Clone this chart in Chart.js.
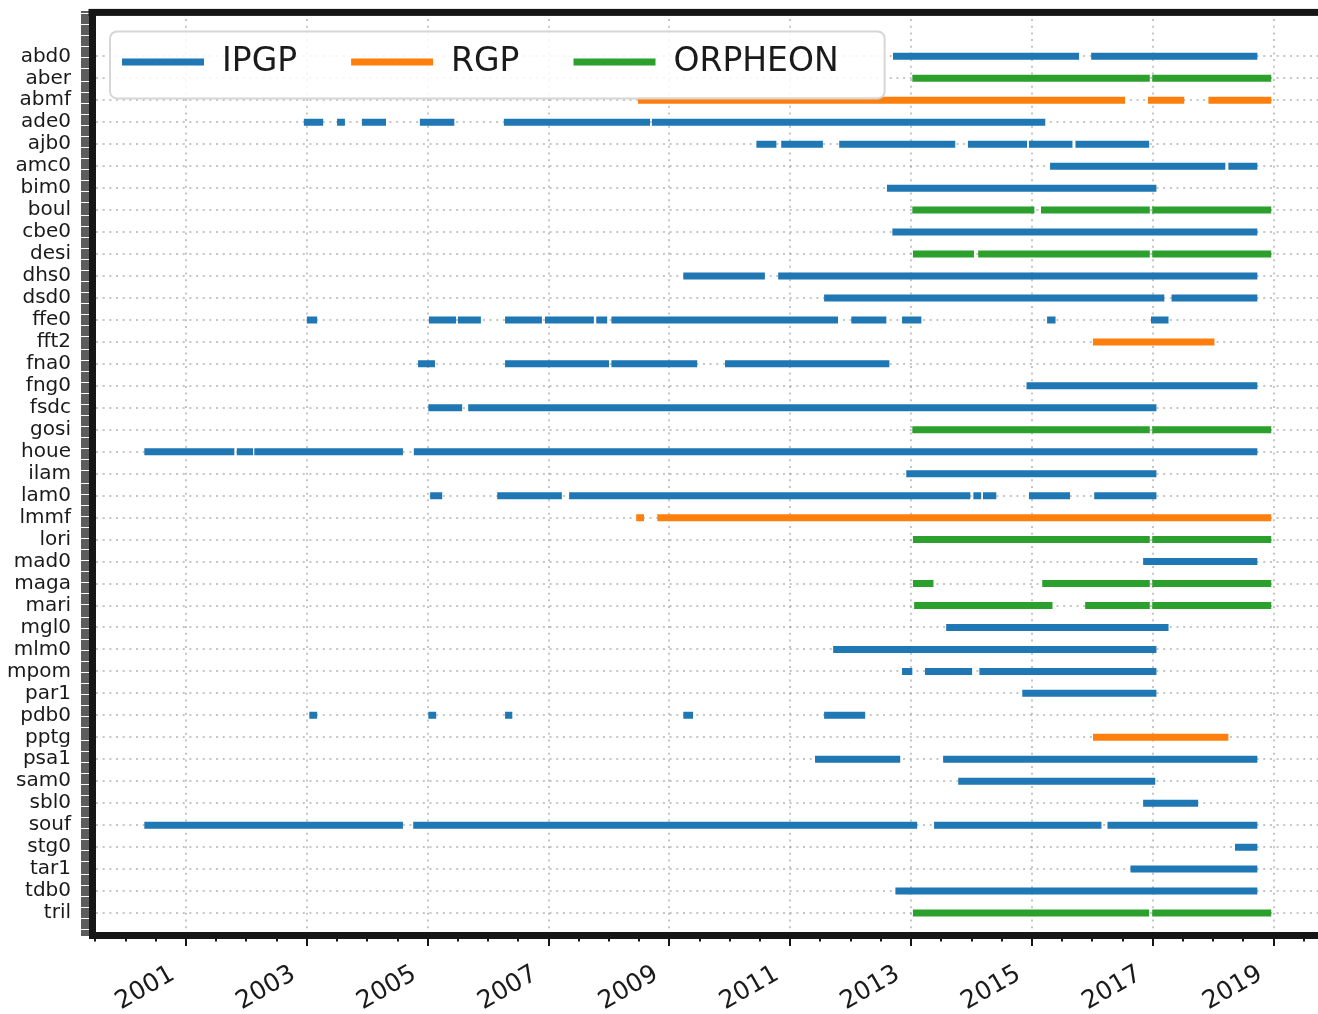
<!DOCTYPE html>
<html>
<head>
<meta charset="utf-8">
<script src="https://cdn.jsdelivr.net/npm/chart.js@4.4.1/dist/chart.umd.min.js"></script>
<style>
  html, body { margin: 0; padding: 0; background: #fff; overflow: hidden; }
  canvas { display: block; }
</style>
</head>
<body>
<canvas id="chart" width="1330" height="1014"></canvas>
<script>
// --- Data: stations (top to bottom), network of each station, observation periods (decimal years) ---
const stations = ['abd0', 'aber', 'abmf', 'ade0', 'ajb0', 'amc0', 'bim0', 'boul', 'cbe0', 'desi',
    'dhs0', 'dsd0', 'ffe0', 'fft2', 'fna0', 'fng0', 'fsdc', 'gosi', 'houe', 'ilam',
    'lam0', 'lmmf', 'lori', 'mad0', 'maga', 'mari', 'mgl0', 'mlm0', 'mpom', 'par1',
    'pdb0', 'pptg', 'psa1', 'sam0', 'sbl0', 'souf', 'stg0', 'tar1', 'tdb0', 'tril'];

const stationNetwork = ['IPGP', 'ORPHEON', 'RGP', 'IPGP', 'IPGP', 'IPGP', 'IPGP', 'ORPHEON', 'IPGP', 'ORPHEON',
    'IPGP', 'IPGP', 'IPGP', 'RGP', 'IPGP', 'IPGP', 'IPGP', 'ORPHEON', 'IPGP', 'IPGP',
    'IPGP', 'RGP', 'ORPHEON', 'IPGP', 'ORPHEON', 'ORPHEON', 'IPGP', 'IPGP', 'IPGP', 'IPGP',
    'IPGP', 'RGP', 'IPGP', 'IPGP', 'IPGP', 'IPGP', 'IPGP', 'IPGP', 'IPGP', 'ORPHEON'];

const periods = [
    [[2012.70, 2015.78], [2015.98, 2018.73]],                                   // abd0
    [[2013.02, 2016.95], [2016.99, 2018.96]],                                   // aber
    [[2008.48, 2016.54], [2016.92, 2017.52], [2017.92, 2018.96]],               // abmf
    [[2002.95, 2003.27], [2003.50, 2003.63], [2003.91, 2004.31], [2004.87, 2005.44],
     [2006.26, 2008.68], [2008.71, 2015.22]],                                   // ade0
    [[2010.44, 2010.77], [2010.85, 2011.54], [2011.81, 2013.73], [2013.94, 2014.92],
     [2014.95, 2015.67], [2015.72, 2016.94]],                                   // ajb0
    [[2015.30, 2018.20], [2018.25, 2018.73]],                                   // amc0
    [[2012.60, 2017.06]],                                                       // bim0
    [[2013.02, 2015.04], [2015.15, 2016.95], [2016.99, 2018.96]],               // boul
    [[2012.69, 2018.73]],                                                       // cbe0
    [[2013.03, 2014.04], [2014.11, 2016.95], [2016.99, 2018.96]],               // desi
    [[2009.23, 2010.58], [2010.80, 2018.73]],                                   // dhs0
    [[2011.56, 2017.19], [2017.31, 2018.73]],                                   // dsd0
    [[2003.00, 2003.17], [2005.02, 2005.47], [2005.50, 2005.88], [2006.28, 2006.89],
     [2006.94, 2007.75], [2007.79, 2007.97], [2008.04, 2011.79], [2012.01, 2012.59],
     [2012.85, 2013.17], [2015.25, 2015.39], [2016.97, 2017.26]],               // ffe0
    [[2016.01, 2018.02]],                                                       // fft2
    [[2004.84, 2005.12], [2006.28, 2008.00], [2008.04, 2009.46], [2009.92, 2012.64]], // fna0
    [[2014.91, 2018.73]],                                                       // fng0
    [[2005.01, 2005.57], [2005.67, 2017.06]],                                   // fsdc
    [[2013.02, 2016.95], [2016.99, 2018.96]],                                   // gosi
    [[2000.31, 2001.80], [2001.84, 2002.11], [2002.13, 2004.59], [2004.77, 2018.73]], // houe
    [[2012.92, 2017.06]],                                                       // ilam
    [[2005.04, 2005.24], [2006.15, 2007.22], [2007.34, 2013.98], [2014.03, 2014.16],
     [2014.19, 2014.41], [2014.95, 2015.63], [2016.03, 2017.06]],               // lam0
    [[2008.45, 2008.58], [2008.80, 2018.96]],                                   // lmmf
    [[2013.03, 2016.95], [2016.99, 2018.96]],                                   // lori
    [[2016.84, 2018.73]],                                                       // mad0
    [[2013.03, 2013.37], [2015.17, 2016.95], [2016.99, 2018.96]],               // maga
    [[2013.05, 2015.34], [2015.88, 2016.95], [2016.99, 2018.96]],               // mari
    [[2013.58, 2017.26]],                                                       // mgl0
    [[2011.71, 2017.06]],                                                       // mlm0
    [[2012.85, 2013.02], [2013.23, 2014.01], [2014.13, 2017.06]],               // mpom
    [[2014.84, 2017.06]],                                                       // par1
    [[2003.04, 2003.17], [2005.01, 2005.14], [2006.28, 2006.40], [2009.23, 2009.39],
     [2011.56, 2012.24]],                                                       // pdb0
    [[2016.01, 2018.25]],                                                       // pptg
    [[2011.41, 2012.82], [2013.53, 2018.73]],                                   // psa1
    [[2013.78, 2017.04]],                                                       // sam0
    [[2016.84, 2017.75]],                                                       // sbl0
    [[2000.31, 2004.59], [2004.76, 2013.10], [2013.38, 2016.15], [2016.25, 2018.73]], // souf
    [[2018.36, 2018.73]],                                                       // stg0
    [[2016.63, 2018.73]],                                                       // tar1
    [[2012.74, 2018.73]],                                                       // tdb0
    [[2013.03, 2016.94], [2016.99, 2018.96]]                                    // tril
];

const networks = ['IPGP', 'RGP', 'ORPHEON'];
const networkColors = ['#1f77b4', '#ff7f0e', '#2ca02c'];
const yearTicks = [2001, 2003, 2005, 2007, 2009, 2011, 2013, 2015, 2017, 2019];
const minorYearTicks = [1999.5, 2000, 2000.5, 2001.5, 2002, 2002.5, 2003.5, 2004, 2004.5, 2005.5, 2006, 2006.5,
    2007.5, 2008, 2008.5, 2009.5, 2010, 2010.5, 2011.5, 2012, 2012.5, 2013.5, 2014, 2014.5,
    2015.5, 2016, 2016.5, 2017.5, 2018, 2018.5, 2019.5];

// --- Styles ---
const INK = '#161616';
const TEXT = '#1a1a1a';
const GRID = 'rgba(150,150,150,0.55)';
const CLEAR = 'rgba(0,0,0,0)';
const DOTS = [2, 4.67];
const FONT = "'DejaVu Sans', sans-serif";

Chart.defaults.font.family = FONT;

// one line dataset per network, segments separated by null points
const datasets = networks.map((net, n) => {
    const data = [];
    stations.forEach((st, i) => {
        if (stationNetwork[i] !== net) return;
        periods[i].forEach(([a, b]) => {
            data.push({ x: a, y: i }, { x: b, y: i }, { x: b, y: null });
        });
    });
    return {
        label: net, data,
        borderColor: networkColors[n], backgroundColor: networkColors[n],
        borderWidth: 7, borderCapStyle: 'butt', pointRadius: 0, pointHoverRadius: 0,
        fill: false, tension: 0, spanGaps: false
    };
});

const isRow = v => Number.isInteger(v) && v >= 0 && v < stations.length;

// top spine, minor x ticks, rotated year labels
const frame = {
    id: 'frame',
    afterDraw(chart) {
        const { ctx, chartArea: a, scales: { x } } = chart;
        ctx.save();
        ctx.fillStyle = INK;
        ctx.fillRect(a.left - 3.5, a.top - 3.5, a.right - a.left + 7, 7);
        ctx.strokeStyle = INK;
        ctx.lineWidth = 2;
        ctx.beginPath();
        minorYearTicks.forEach(v => {
            const px = Math.round(x.getPixelForValue(v));
            ctx.moveTo(px, a.bottom);
            ctx.lineTo(px, a.bottom + 6.5);
        });
        ctx.stroke();

        ctx.font = '25px ' + FONT;
        ctx.fillStyle = TEXT;
        ctx.textAlign = 'right';
        ctx.textBaseline = 'alphabetic';
        x.ticks.forEach(t => {
            ctx.save();
            ctx.translate(x.getPixelForValue(t.value) - 10, a.bottom + 43);
            ctx.rotate(-Math.PI / 6);
            ctx.fillText(t.label || String(t.value), 0, 0);
            ctx.restore();
        });
        ctx.restore();
    }
};

// framed legend inside the axes, upper left
const boxLegend = {
    id: 'boxLegend',
    afterDatasetsDraw(chart) {
        const { ctx, chartArea: a } = chart;
        const fontSize = 33, lineLen = 82, textGap = 18, colGap = 54;
        const left = a.left + 18, top = a.top + 19, h = 67;
        ctx.save();
        ctx.font = fontSize + 'px ' + FONT;
        let w = 12;
        chart.data.datasets.forEach((ds, i) => {
            w += lineLen + textGap + ctx.measureText(ds.label).width + (i < chart.data.datasets.length - 1 ? colGap : 0);
        });
        w += 46;
        ctx.beginPath();
        ctx.roundRect(left, top, w, h, 7);
        ctx.fillStyle = 'rgba(255,255,255,0.85)';
        ctx.fill();
        ctx.strokeStyle = '#d6d6d6';
        ctx.lineWidth = 2;
        ctx.stroke();
        const cy = top + 30.5;
        let cx = left + 12;
        ctx.textBaseline = 'middle';
        chart.data.datasets.forEach(ds => {
            ctx.strokeStyle = ds.borderColor;
            ctx.lineWidth = 7;
            ctx.beginPath();
            ctx.moveTo(cx, cy);
            ctx.lineTo(cx + lineLen, cy);
            ctx.stroke();
            ctx.fillStyle = TEXT;
            ctx.fillText(ds.label, cx + lineLen + textGap, cy + 1);
            cx += lineLen + textGap + ctx.measureText(ds.label).width + colGap;
        });
        ctx.restore();
    }
};

new Chart(document.getElementById('chart'), {
    type: 'line',
    data: { datasets },
    options: {
        responsive: false,
        animation: false,
        events: [],
        layout: { padding: { top: 12.4, right: 8, left: 0, bottom: 0 } },
        plugins: { legend: { display: false }, tooltip: { enabled: false } },
        scales: {
            x: {
                type: 'linear', position: 'bottom', min: 1999.444, max: 2019.8,
                afterBuildTicks: s => { s.ticks = yearTicks.map(v => ({ value: v })); },
                afterFit: s => { s.height = 79; s.paddingLeft = 0; s.paddingRight = 0; },
                ticks: { display: false, autoSkip: false, callback: v => String(v) },
                grid: { color: GRID, lineWidth: 2, tickColor: INK, tickWidth: 2, tickLength: 11 },
                border: { color: INK, width: 7, dash: DOTS }
            },
            y: {
                type: 'linear', position: 'left', reverse: true, min: -2, max: 40,
                afterBuildTicks: s => {
                    const t = [];
                    for (let i = -20; i <= 400; i++) t.push({ value: i / 10 });
                    s.ticks = t;
                },
                afterFit: s => { s.width = 92; s.paddingTop = 0; s.paddingBottom = 0; },
                ticks: {
                    autoSkip: false, padding: 10, color: TEXT, font: { size: 20 },
                    callback: v => isRow(v) ? stations[v] : ''
                },
                grid: {
                    color: c => isRow(c.tick.value) ? GRID : CLEAR,
                    lineWidth: c => isRow(c.tick.value) ? 2 : 0,
                    tickColor: INK, tickWidth: 1.4, tickLength: 11
                },
                border: { color: INK, width: 7, dash: DOTS }
            }
        }
    },
    plugins: [frame, boxLegend]
});
</script>
</body>
</html>
